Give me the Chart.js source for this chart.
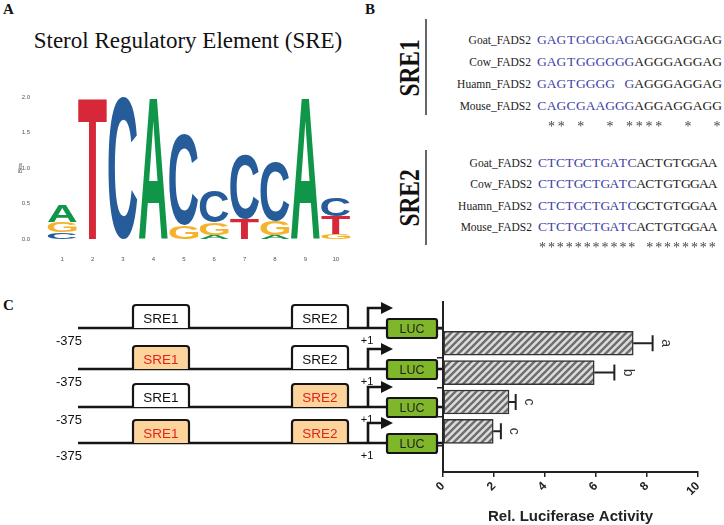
<!DOCTYPE html>
<html>
<head>
<meta charset="utf-8">
<script src="https://cdn.jsdelivr.net/npm/chart.js@4.4.0/dist/chart.umd.min.js"></script>
<style>
body{margin:0;width:724px;height:525px;position:relative;background:#fff;overflow:hidden;font-family:"Liberation Sans",Arial,sans-serif;}
.abs{position:absolute;}
.tag{position:absolute;font:bold 15px/15px "Liberation Serif",serif;color:#111;}
.sp{position:absolute;font:11.5px/16px "Liberation Serif",serif;color:#222;text-align:right;white-space:nowrap;}
.seq{position:absolute;font:13.5px/16px "Liberation Serif",serif;color:#222;white-space:nowrap;}
.seq span{display:inline-block;text-align:center;}
.stars{will-change:transform;font-size:14px;}
.vlab{position:absolute;font:bold 30px/30px "Liberation Serif",serif;color:#111;white-space:nowrap;transform:translate(-50%,-50%) rotate(-90deg) scaleX(0.78);}
.vline{position:absolute;width:1.5px;background:#666;}
canvas{position:absolute;}
</style>
</head>
<body>
<div class="tag" style="left:3px;top:2px">A</div>
<div class="tag" style="left:365px;top:2px">B</div>
<div class="tag" style="left:3px;top:298px">C</div>
<div class="abs" style="left:0;top:29px;width:376px;text-align:center;font:23px/23px 'Liberation Serif',serif;color:#111">Sterol Regulatory Element (SRE)</div>
<div id="panelB"></div>
<svg id="constructs" class="abs" style="left:0;top:0" width="724" height="525"></svg>
<canvas id="logo" width="362" height="185" style="left:0;top:80px"></canvas>
<canvas id="bars" width="304" height="248" style="left:420px;top:280px"></canvas>
<script>
// panel A: sequence logo, information content (bits) per letter
var logoPositions = ['1','2','3','4','5','6','7','8','9','10'];
var bitsA = [0.24, 0, 0, 2.0, 0, 0.06, 0, 0.05, 2.0, 0];
var bitsC = [0.09, 0, 2.0, 0, 1.28, 0.44, 0.91, 0.84, 0, 0.26];
var bitsG = [0.145, 0, 0, 0, 0.19, 0.17, 0, 0.21, 0, 0.07];
var bitsT = [0, 2.0, 0, 0, 0, 0, 0.29, 0, 0, 0.25];
var letterColors = {A:'#109648', C:'#255c99', G:'#f5b22c', T:'#d62839'};

// panel B: alignments
var speciesNames = ['Goat_FADS2','Cow_FADS2','Huamn_FADS2','Mouse_FADS2'];
var sre1Blue = ['GAGTGGGGAG','GAGTGGGGGG','GAGTGGGG G','CAGCGAAGGG'];
var sre1Black = ['AGGGAGGAG','AGGGAGGAG','AGGGAGGAG','AGGAGGAGG'];
var sre1Stars = ' ** *  * ****  *  *';
var sre2Blue = ['CTCTGCTGATC','CTCTGCTGATC','CTCTGCTGATC','CTCTGCTGATC'];
var sre2Black = ['ACTGTGGAA','ACTGTGGAA','GCTGTGGAA','ACTGTGGAA'];
var sre2Stars = '*********** ********';

// panel C: constructs and luciferase activity
var constructNames = ['WT','SRE1 mut','SRE2 mut','SRE1+SRE2 mut'];
var sre1Mutated = [false, true, false, true];
var sre2Mutated = [false, false, true, true];
var luciferase = [7.46, 5.93, 2.59, 1.97];
var luciferaseSE = [0.76, 0.79, 0.26, 0.30];
var sigLetters = ['a','b','c','c'];

// ---- panel B html
function alignBlock(y0, dy, blue, black, stars, cw, x0, starY){
  var h = '';
  speciesNames.forEach(function(n,i){
    var yc = y0 + i*dy;
    h += '<div class="sp" style="top:'+(yc-8)+'px;left:'+(x0-156)+'px;width:150px">'+n+'</div>';
    var cells = '';
    blue[i].split('').forEach(function(c){ cells += '<span style="width:'+cw+'px;color:#3d42a6">'+(c==' '?'&nbsp;':c)+'</span>'; });
    black[i].split('').forEach(function(c){ cells += '<span style="width:'+cw+'px">'+c+'</span>'; });
    h += '<div class="seq" style="top:'+(yc-8)+'px;left:'+x0+'px">'+cells+'</div>';
  });
  var st = '';
  stars.split('').forEach(function(c){ st += '<span style="width:'+cw+'px">'+(c==' '?'&nbsp;':c)+'</span>'; });
  h += '<div class="seq stars" style="top:'+(starY-8)+'px;left:'+x0+'px;color:#444">'+st+'</div>';
  return h;
}
var bh = '';
bh += '<div class="vline" style="left:425px;top:19px;height:96px"></div>';
bh += '<div class="vline" style="left:425px;top:150px;height:95px"></div>';
bh += '<div class="vlab" style="left:409px;top:68px">SRE1</div>';
bh += '<div class="vlab" style="left:409px;top:198px">SRE2</div>';
bh += alignBlock(40, 22, sre1Blue, sre1Black, sre1Stars, 9.74, 537, 127);
bh += alignBlock(163, 21.4, sre2Blue, sre2Black, sre2Stars, 8.95, 538, 248);
document.getElementById('panelB').innerHTML = bh;

// ---- panel C construct drawings
(function(){
  var rowsY = [328, 369, 407, 443];
  var s = '';
  rowsY.forEach(function(yy,i){
    s += '<line x1="78" y1="'+yy+'" x2="443" y2="'+yy+'" stroke="#151515" stroke-width="2.6"/>';
    [[133,'SRE1',sre1Mutated[i]],[292,'SRE2',sre2Mutated[i]]].forEach(function(b){
      var bx = b[0];
      s += '<path d="M'+bx+' '+yy+' V'+(yy-20)+' Q'+bx+' '+(yy-23)+' '+(bx+3)+' '+(yy-23)+' H'+(bx+53)+' Q'+(bx+56)+' '+(yy-23)+' '+(bx+56)+' '+(yy-20)+' V'+yy+'" fill="'+(b[2]?'#fdd59c':'#fff')+'" stroke="#151515" stroke-width="2.2"/>';
      s += '<text x="'+(bx+28)+'" y="'+(yy-5.5)+'" text-anchor="middle" font-family="Liberation Sans" font-size="13.5" fill="'+(b[2]?'#e3211b':'#111')+'">'+b[1]+'</text>';
    });
    s += '<path d="M368 '+yy+' V'+(yy-20)+' H382" fill="none" stroke="#151515" stroke-width="2.6"/>';
    s += '<path d="M381 '+(yy-26)+' L393 '+(yy-20)+' L381 '+(yy-14)+' Z" fill="#151515"/>';
    s += '<rect x="387" y="'+(yy-9)+'" width="50" height="19" rx="2" fill="#80b62a" stroke="#151515" stroke-width="2.2"/>';
    s += '<text x="412" y="'+(yy+5)+'" text-anchor="middle" font-family="Liberation Sans" font-size="12.5" fill="#222">LUC</text>';
    s += '<text x="69" y="'+(yy+17)+'" text-anchor="middle" font-family="Liberation Sans" font-size="13" fill="#111">-375</text>';
    s += '<text x="367" y="'+(yy+16)+'" text-anchor="middle" font-family="Liberation Sans" font-size="11" fill="#111">+1</text>';
  });
  document.getElementById('constructs').innerHTML = s;
})();

// ---- logo chart: letters stacked smallest at bottom
var logoCols = logoPositions.map(function(p,i){
  var all = {A:bitsA[i], C:bitsC[i], G:bitsG[i], T:bitsT[i]};
  return Object.keys(all).map(function(L){ return {L:L, h:all[L]}; })
    .filter(function(o){ return o.h > 0; })
    .sort(function(a,b){ return a.h - b.h; });
});
var nLayers = Math.max.apply(null, logoCols.map(function(c){ return c.length; }));
var logoSets = [];
for (var k = 0; k < nLayers; k++) {
  logoSets.push({
    data: logoCols.map(function(c){ return c[k] ? c[k].h : 0; }),
    letters: logoCols.map(function(c){ return c[k] ? c[k].L : ''; }),
    backgroundColor: 'rgba(0,0,0,0)', borderWidth: 0,
    barPercentage: 0.95, categoryPercentage: 1
  });
}

var logoLetters = {
  id: 'logoLetters',
  afterDatasetsDraw: function(chart){
    var ctx = chart.ctx;
    chart.data.datasets.forEach(function(ds,di){
      chart.getDatasetMeta(di).data.forEach(function(bar,i){
        var L = ds.letters[i];
        if (!L) return;
        var p = bar.getProps(['x','y','base','width'], true);
        var h = p.base - p.y;
        if (h < 0.5) return;
        ctx.save();
        ctx.font = 'bold 100px "Liberation Sans"';
        var m = ctx.measureText(L);
        var gw = m.actualBoundingBoxLeft + m.actualBoundingBoxRight;
        var gh = m.actualBoundingBoxAscent + m.actualBoundingBoxDescent;
        ctx.translate(p.x - p.width/2, p.y);
        ctx.scale(p.width/gw, h/gh);
        ctx.fillStyle = letterColors[L];
        ctx.textAlign = 'left'; ctx.textBaseline = 'alphabetic';
        ctx.fillText(L, m.actualBoundingBoxLeft, m.actualBoundingBoxAscent);
        ctx.restore();
      });
    });
  }
};

new Chart(document.getElementById('logo').getContext('2d'), {
  type: 'bar',
  data: { labels: logoPositions, datasets: logoSets },
  options: {
    responsive: false, animation: false,
    layout: { padding: { top: 17, right: 11, bottom: 0, left: 0 } },
    plugins: { legend: { display: false }, tooltip: { enabled: false } },
    scales: {
      x: { stacked: true, grid: { display: false }, border: { display: false },
           ticks: { font: { size: 6 }, color: '#555', padding: 9, maxRotation: 0 },
           afterFit: function(s){ s.height = 26; } },
      y: { stacked: true, min: 0, max: 2, grid: { display: false }, border: { display: false },
           ticks: { stepSize: 0.5, font: { size: 6 }, color: '#555', padding: 9,
                    callback: function(v){ return v.toFixed(1); } },
           title: { display: true, text: 'Bits', font: { size: 6 }, color: '#444', padding: { top: 17, bottom: 0 } },
           afterFit: function(s){ s.width = 47; } }
    }
  },
  plugins: [logoLetters]
});

// ---- luciferase bar chart
var barCtx = document.getElementById('bars').getContext('2d');
var tile = document.createElement('canvas');
tile.width = 7; tile.height = 7;
var tg = tile.getContext('2d');
tg.fillStyle = '#dcdcdc'; tg.fillRect(0,0,7,7);
tg.strokeStyle = '#6e6e6e'; tg.lineWidth = 2.4;
tg.beginPath();
tg.moveTo(-1,8); tg.lineTo(8,-1);
tg.moveTo(-1,1); tg.lineTo(1,-1);
tg.moveTo(6,8); tg.lineTo(8,6);
tg.stroke();
var hatch = barCtx.createPattern(tile, 'repeat');

var errorBars = {
  id: 'errorBars',
  afterDatasetsDraw: function(chart){
    var ctx = chart.ctx, x = chart.scales.x, y = chart.scales.y;
    ctx.save();
    ctx.strokeStyle = '#222'; ctx.lineWidth = 2;
    luciferase.forEach(function(v,i){
      var x0 = x.getPixelForValue(v), x1 = x.getPixelForValue(v + luciferaseSE[i]), yc = y.getPixelForValue(i);
      ctx.beginPath();
      ctx.moveTo(x0,yc); ctx.lineTo(x1,yc);
      ctx.moveTo(x1,yc-8); ctx.lineTo(x1,yc+8);
      ctx.stroke();
      ctx.save();
      ctx.translate(x1 + 13, yc);
      ctx.rotate(Math.PI/2);
      ctx.fillStyle = '#333'; ctx.font = '14px "Liberation Sans"';
      ctx.textAlign = 'center'; ctx.textBaseline = 'middle';
      ctx.fillText(sigLetters[i], 0, 0);
      ctx.restore();
    });
    ctx.restore();
  }
};

new Chart(barCtx, {
  type: 'bar',
  data: {
    datasets: [{
      data: luciferase.map(function(v,i){ return {x: v, y: i}; }),
      backgroundColor: hatch, borderColor: '#333', borderWidth: 1.5,
      barThickness: 24, borderSkipped: false
    }]
  },
  options: {
    indexAxis: 'y', responsive: false, animation: false,
    layout: { padding: { top: 22, right: 26, bottom: 0, left: 0 } },
    plugins: { legend: { display: false }, tooltip: { enabled: false } },
    scales: {
      y: { type: 'linear', reverse: true, min: -0.68, max: 3.66,
           afterBuildTicks: function(s){ s.ticks = constructNames.map(function(n,i){ return {value: i}; }); },
           ticks: { display: false },
           grid: { drawOnChartArea: false, drawTicks: true, tickLength: 6, color: '#222', lineWidth: 1.5 },
           border: { color: '#222', width: 2 },
           afterFit: function(s){ s.width = 23; } },
      x: { min: 0, max: 10,
           ticks: { stepSize: 2, minRotation: 45, maxRotation: 45, color: '#222', padding: 2,
                    font: { family: 'Liberation Sans', size: 12, weight: 'bold' } },
           grid: { drawOnChartArea: false, drawTicks: true, tickLength: 5, color: '#222', lineWidth: 1.5 },
           border: { color: '#222', width: 2 },
           title: { display: true, text: 'Rel. Luciferase Activity', color: '#222',
                    font: { family: 'Liberation Sans', size: 15, weight: 'bold' }, padding: { top: 0, bottom: 2 } },
           afterFit: function(s){ s.height = 56; } }
    }
  },
  plugins: [errorBars]
});
</script>
</body>
</html>
